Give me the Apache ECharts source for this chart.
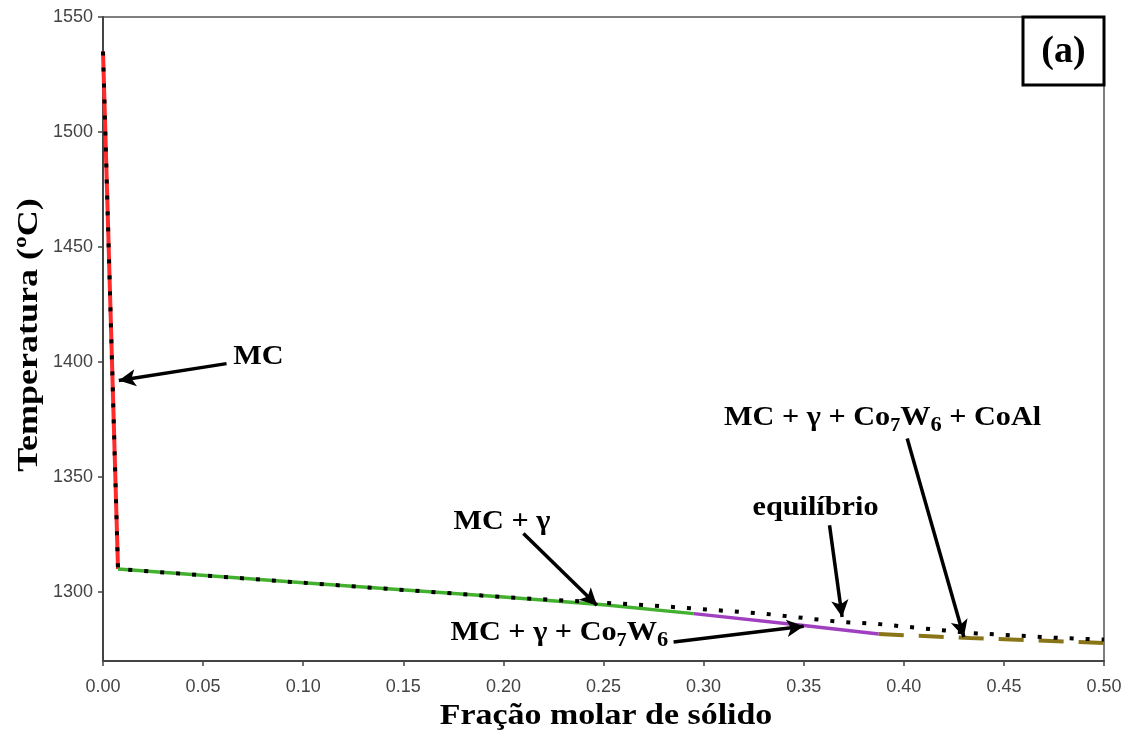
<!DOCTYPE html>
<html>
<head>
<meta charset="utf-8">
<script src="https://cdn.jsdelivr.net/npm/echarts@6/dist/echarts.min.js"></script>
<style>
html,body{margin:0;padding:0;background:#fff;}
#chart{width:1132px;height:744px;}
</style>
</head>
<body>
<div id="chart"></div>
<script>
// ---- data ----
const yTicks = [1300, 1350, 1400, 1450, 1500, 1550];
const mcLine = [[0.0, 1535], [0.0075, 1310]];
const mcGammaLine = [[0.0075, 1310], [0.1, 1304], [0.2, 1297.8], [0.25, 1294.5], [0.295, 1290.6]];
const mcGammaCoWLine = [[0.295, 1290.6], [0.35, 1285.4], [0.3875, 1281.7]];
const mcGammaCoWCoAlLine = [[0.3875, 1281.7], [0.433, 1280.0], [0.5, 1277.8]];
const equilibriumLine = [[0.0, 1535], [0.0075, 1310], [0.1, 1304], [0.2, 1297.8], [0.2733, 1294.2], [0.33, 1290.6], [0.368, 1287.0], [0.386, 1286.2], [0.433, 1282.2], [0.478, 1280.0], [0.5, 1279.3]];
const labelTexts = ['{b|MC}', '{b|MC + γ}', '{b|MC + γ + Co}{sub|7}{b|W}{sub6|6}', '{b|equilíbrio}', '{b|MC + γ + Co}{sub|7}{b|W}{sub6|6}{b| + CoAl}'];
const labelPos = [[0.065, 1402], [0.1993, 1330.3], [0.2279, 1282], [0.3559, 1336.4], [0.3894, 1375.5]];
const labelAlign = ['left', 'center', 'center', 'center', 'center'];
const arrowFrom = [[0.0617, 1399.3], [0.21, 1325.4], [0.285, 1278.3], [0.3629, 1329], [0.4017, 1366.7]];
const arrowTo = [[0.0079, 1392], [0.2467, 1294.2], [0.35, 1285.1], [0.3692, 1289.1], [0.43, 1280.4]];
const xTitle = 'Fração molar de sólido';
const yTitle = 'Temperatura (ºC)';

const serif = '"Liberation Serif", "DejaVu Serif", serif';
const sans = '"Liberation Sans", Arial, sans-serif';

const chart = echarts.init(document.getElementById('chart'));

const richStyles = {
  b: {fontFamily: serif, fontWeight: 'bold', fontSize: 27, fill: '#000'},
  sub: {fontFamily: serif, fontWeight: 'bold', fontSize: 18, fill: '#000', verticalAlign: 'bottom', padding: [12, 0, 0, 0]},
  sub6: {fontFamily: serif, fontWeight: 'bold', fontSize: 20, fill: '#000', verticalAlign: 'bottom', padding: [14, 0, 0, 0]}
};

const arrowData = arrowFrom.map((f, i) => [{coord: f}, {coord: arrowTo[i]}]);

const staticGraphics = [
  {type: 'rect', shape: {x: 1023, y: 17, width: 81, height: 68}, style: {fill: '#fff', stroke: '#000', lineWidth: 3}, z: 100},
  {type: 'text', x: 1063.5, y: 52, style: {text: '(a)', fontFamily: serif, fontWeight: 'bold', fontSize: 38, fill: '#000', align: 'center', verticalAlign: 'middle'}, z: 101},
  {type: 'text', x: 606, y: 717, scaleX: 1.17, style: {text: xTitle, fontFamily: serif, fontWeight: 'bold', fontSize: 29, fill: '#000', align: 'center', verticalAlign: 'middle'}, z: 101},
  {type: 'text', x: 29, y: 335, rotation: Math.PI / 2, scaleX: 1.2, style: {text: yTitle, fontFamily: serif, fontWeight: 'bold', fontSize: 30, fill: '#000', align: 'center', verticalAlign: 'middle'}, z: 101}
];

chart.setOption({
  animation: false,
  backgroundColor: '#fff',
  grid: {left: 103, right: 28, top: 17, bottom: 83, show: true, borderColor: '#555', borderWidth: 1.5, backgroundColor: 'transparent'},
  xAxis: {
    type: 'value', min: 0, max: 0.5, interval: 0.05,
    axisLine: {show: true, lineStyle: {color: '#444', width: 2}},
    axisTick: {show: true, length: 5, lineStyle: {color: '#444', width: 1.5}},
    axisLabel: {fontFamily: sans, fontSize: 18, color: '#444', margin: 17, formatter: v => v.toFixed(2)},
    splitLine: {show: false}
  },
  yAxis: {
    type: 'value', min: 1270, max: 1550,
    axisLine: {show: true, lineStyle: {color: '#444', width: 2}},
    axisTick: {show: true, length: 5, customValues: yTicks, lineStyle: {color: '#444', width: 1.5}},
    axisLabel: {fontFamily: sans, fontSize: 18, color: '#444', margin: 10, customValues: yTicks, formatter: v => String(v)},
    splitLine: {show: false}
  },
  graphic: staticGraphics,
  series: [
    {type: 'line', name: 'MC', data: mcLine, showSymbol: false, lineStyle: {color: '#ff2a2a', width: 4}, z: 2},
    {type: 'line', name: 'MC + γ', data: mcGammaLine, showSymbol: false, lineStyle: {color: '#44b030', width: 3.5}, z: 2},
    {type: 'line', name: 'MC + γ + Co7W6', data: mcGammaCoWLine, showSymbol: false, lineStyle: {color: '#a040c0', width: 3.5}, z: 2},
    {type: 'line', name: 'MC + γ + Co7W6 + CoAl', data: mcGammaCoWCoAlLine, showSymbol: false, lineStyle: {color: '#8a7418', width: 4, type: [25, 15]}, z: 2},
    {type: 'line', name: 'equilíbrio', data: equilibriumLine, showSymbol: false, lineStyle: {color: '#000', width: 4, type: [4, 12]}, z: 3},
    {type: 'line', name: 'arrows', data: [], markLine: {silent: true, symbol: ['none', 'arrow'], symbolSize: [13, 17], label: {show: false}, lineStyle: {color: '#000', width: 3.5, type: 'solid'}, data: arrowData}, z: 4}
  ]
});

// annotation texts placed through the chart's own scales
const annotGraphics = labelPos.map((p, i) => {
  const px = chart.convertToPixel({gridIndex: 0}, p);
  return {
    type: 'text', x: px[0], y: px[1], scaleX: 1.12, z: 110,
    style: {text: labelTexts[i], rich: richStyles, align: labelAlign[i], verticalAlign: 'middle',
            fontFamily: serif, fontWeight: 'bold', fontSize: 27, fill: '#000'}
  };
});
chart.setOption({graphic: staticGraphics.concat(annotGraphics)});
</script>
</body>
</html>
